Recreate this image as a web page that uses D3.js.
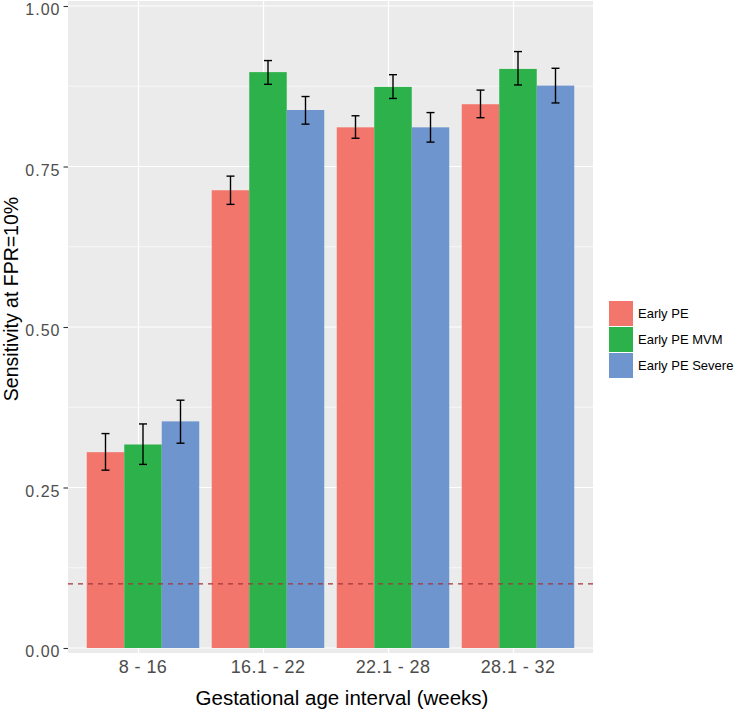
<!DOCTYPE html>
<html>
<head>
<meta charset="utf-8">
<script src="https://cdn.jsdelivr.net/npm/d3@7"></script>
<style>
  html, body { margin: 0; padding: 0; background: #fff; }
  svg { display: block; font-family: "Liberation Sans", Arial, Helvetica, sans-serif; }
</style>
</head>
<body>
<svg id="chart" width="738" height="711"></svg>
<script>
// ---- data ----
const categories = ["8 - 16", "16.1 - 22", "22.1 - 28", "28.1 - 32"];
const seriesNames = ["Early PE", "Early PE MVM", "Early PE Severe"];
const seriesColors = ["#F2766B", "#2DB24B", "#6E95CD"];

const earlyPE      = [0.305, 0.713, 0.811, 0.847];
const earlyPELo    = [0.277, 0.691, 0.794, 0.826];
const earlyPEHi    = [0.334, 0.735, 0.829, 0.869];

const earlyPEMVM   = [0.317, 0.897, 0.874, 0.902];
const earlyPEMVMLo = [0.286, 0.878, 0.856, 0.877];
const earlyPEMVMHi = [0.349, 0.915, 0.893, 0.929];

const earlyPESev   = [0.353, 0.838, 0.811, 0.876];
const earlyPESevLo = [0.319, 0.816, 0.788, 0.849];
const earlyPESevHi = [0.386, 0.859, 0.834, 0.903];

const yTicks = [0, 0.25, 0.5, 0.75, 1];
const yMinorTicks = [0.125, 0.375, 0.625, 0.875];
const fprThreshold = 0.1;

const xTitle = "Gestational age interval (weeks)";
const yTitle = "Sensitivity at FPR=10%";

// ---- build rows ----
const values = [earlyPE, earlyPEMVM, earlyPESev];
const lows = [earlyPELo, earlyPEMVMLo, earlyPESevLo];
const highs = [earlyPEHi, earlyPEMVMHi, earlyPESevHi];
const rows = [];
categories.forEach((c, ci) => {
  seriesNames.forEach((s, si) => {
    rows.push({ cat: c, series: s, si, v: values[si][ci], lo: lows[si][ci], hi: highs[si][ci] });
  });
});

// ---- layout ----
const panel = { left: 68, right: 593, top: 1, bottom: 653 };
const svg = d3.select("#chart");

const x = d3.scalePoint().domain(categories).range([panel.left, panel.right]).padding(0.6);
const step = x.step();
const dodge = 0.9 * step;
const barW = dodge / seriesNames.length;
const gridShift = -4.5; // reference gridlines sit slightly left of the bar groups

const y = d3.scaleLinear().domain([0, 1]).range([648, 6]);
const color = d3.scaleOrdinal().domain(seriesNames).range(seriesColors);

// panel background
svg.append("rect")
  .attr("x", panel.left).attr("y", panel.top)
  .attr("width", panel.right - panel.left).attr("height", panel.bottom - panel.top)
  .attr("fill", "#EBEBEB");

// minor gridlines
svg.append("g").selectAll("line").data(yMinorTicks).join("line")
  .attr("x1", panel.left).attr("x2", panel.right)
  .attr("y1", d => y(d)).attr("y2", d => y(d))
  .attr("stroke", "#fff").attr("stroke-width", 0.6);

// major gridlines
svg.append("g").selectAll("line").data(yTicks).join("line")
  .attr("x1", panel.left).attr("x2", panel.right)
  .attr("y1", d => y(d)).attr("y2", d => y(d))
  .attr("stroke", "#fff").attr("stroke-width", 1.2);

svg.append("g").selectAll("line").data(categories).join("line")
  .attr("x1", d => x(d) + gridShift).attr("x2", d => x(d) + gridShift)
  .attr("y1", panel.top).attr("y2", panel.bottom)
  .attr("stroke", "#fff").attr("stroke-width", 1.2);

// bars
const barX = d => x(d.cat) - dodge / 2 + d.si * barW;
svg.append("g").selectAll("rect").data(rows).join("rect")
  .attr("x", barX)
  .attr("width", barW)
  .attr("y", d => y(d.v))
  .attr("height", d => y(0) - y(d.v))
  .attr("fill", d => color(d.series));

// threshold line
svg.append("line")
  .attr("x1", panel.left).attr("x2", panel.right)
  .attr("y1", y(fprThreshold)).attr("y2", y(fprThreshold))
  .attr("stroke", "#A3363B").attr("stroke-width", 1.3)
  .attr("stroke-dasharray", "5,5");

// error bars
const capHalf = 4;
const eg = svg.append("g").attr("stroke", "#000").attr("stroke-width", 1.4).attr("fill", "none");
rows.forEach(d => {
  const cx = barX(d) + barW / 2;
  eg.append("line").attr("x1", cx).attr("x2", cx).attr("y1", y(d.lo)).attr("y2", y(d.hi));
  eg.append("line").attr("x1", cx - capHalf).attr("x2", cx + capHalf).attr("y1", y(d.lo)).attr("y2", y(d.lo));
  eg.append("line").attr("x1", cx - capHalf).attr("x2", cx + capHalf).attr("y1", y(d.hi)).attr("y2", y(d.hi));
});

// y axis
const yAxis = svg.append("g")
  .attr("transform", `translate(${panel.left},0)`)
  .call(d3.axisLeft(y).tickValues(yTicks).tickFormat(d3.format(".2f")).tickSize(4.5).tickPadding(3));
yAxis.select(".domain").remove();
yAxis.selectAll(".tick line").attr("stroke", "#333").attr("stroke-width", 1.1);
yAxis.selectAll(".tick text")
  .attr("fill", "#4D4D4D")
  .attr("dy", "8.5")
  .style("font-size", "16px")
  .style("letter-spacing", "1px")
  .style("font-family", "'Liberation Sans', Arial, Helvetica, sans-serif");

// x tick labels
svg.append("g").selectAll("text").data(categories).join("text")
  .attr("x", d => x(d)).attr("y", 673)
  .attr("text-anchor", "middle")
  .attr("fill", "#4D4D4D").style("font-size", "18px")
  .style("letter-spacing", "0.4px")
  .text(d => d);

// axis titles
svg.append("text")
  .attr("x", 342).attr("y", 705)
  .attr("text-anchor", "middle").attr("fill", "#000")
  .style("font-size", "20.5px")
  .text(xTitle);

svg.append("text")
  .attr("transform", "translate(18,299) rotate(-90)")
  .attr("text-anchor", "middle").attr("fill", "#000")
  .style("font-size", "19.5px")
  .text(yTitle);

// legend
const legend = svg.append("g").attr("transform", "translate(609,301)");
const keyH = 25, keyGap = 26;
seriesNames.forEach((s, i) => {
  legend.append("rect")
    .attr("x", 0).attr("y", i * keyGap)
    .attr("width", 24).attr("height", keyH)
    .attr("fill", color(s));
  legend.append("text")
    .attr("x", 29).attr("y", i * keyGap + keyH / 2)
    .attr("dy", "0.35em")
    .attr("fill", "#000").style("font-size", "13px")
    .text(s);
});
</script>
</body>
</html>
